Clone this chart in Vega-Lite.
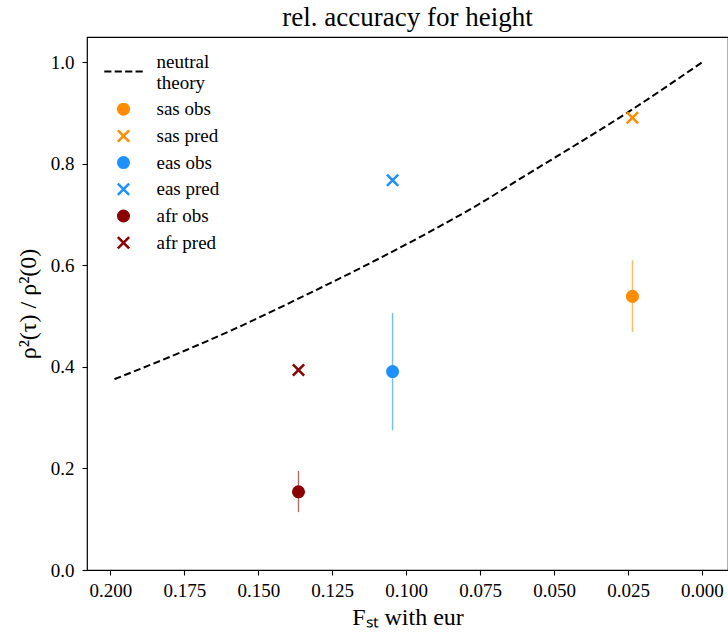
{
  "$schema": "https://vega.github.io/schema/vega-lite/v6.json",
  "width": 728,
  "height": 633,
  "autosize": {"type": "fit", "contains": "padding"},
  "padding": {"left": 16, "top": 4, "right": 0, "bottom": 4},
  "background": "white",
  "config": {
    "font": "Liberation Serif",
    "view": {"stroke": "black", "strokeWidth": 1.2},
    "axis": {
      "grid": false,
      "domain": false,
      "tickColor": "black",
      "tickSize": 5,
      "tickWidth": 1.1,
      "labelColor": "black",
      "labelFont": "Liberation Serif",
      "labelFontSize": 19,
      "titleFont": "Liberation Serif",
      "titleFontSize": 24,
      "titleFontWeight": "normal",
      "titleColor": "black"
    }
  },
  "title": {
    "text": "rel. accuracy for height",
    "font": "Liberation Serif",
    "fontSize": 27,
    "fontWeight": "normal",
    "color": "black",
    "offset": 5
  },
  "datasets": {
    "theory": [
      {"fst": 0.1986, "ratio": 0.376},
      {"fst": 0.1749, "ratio": 0.432},
      {"fst": 0.158, "ratio": 0.475},
      {"fst": 0.1363, "ratio": 0.535},
      {"fst": 0.1137, "ratio": 0.600},
      {"fst": 0.0912, "ratio": 0.669},
      {"fst": 0.0753, "ratio": 0.721},
      {"fst": 0.0617, "ratio": 0.770},
      {"fst": 0.0459, "ratio": 0.826},
      {"fst": 0.0255, "ratio": 0.900},
      {"fst": 0.0, "ratio": 1.0}
    ],
    "points": [
      {"series": "sas obs", "fst": 0.0235, "ratio": 0.539, "lo": 0.469, "hi": 0.61},
      {"series": "sas pred", "fst": 0.0235, "ratio": 0.891},
      {"series": "eas obs", "fst": 0.1046, "ratio": 0.391, "lo": 0.275, "hi": 0.506},
      {"series": "eas pred", "fst": 0.1046, "ratio": 0.768},
      {"series": "afr obs", "fst": 0.1364, "ratio": 0.154, "lo": 0.114, "hi": 0.195},
      {"series": "afr pred", "fst": 0.1364, "ratio": 0.394}
    ]
  },
  "layer": [
    {
      "data": {"name": "theory"},
      "mark": {"type": "line", "color": "black", "strokeDash": [7, 3.5], "strokeWidth": 2, "interpolate": "monotone"},
      "encoding": {
        "x": {
          "field": "fst",
          "type": "quantitative",
          "scale": {"domain": [-0.0088, 0.2079], "reverse": true, "nice": false, "zero": false},
          "axis": {"values": [0, 0.025, 0.05, 0.075, 0.1, 0.125, 0.15, 0.175, 0.2], "format": ".3f", "labelPadding": 6, "titlePadding": 5},
          "title": "Fₛₜ with eur"
        },
        "y": {
          "field": "ratio",
          "type": "quantitative",
          "scale": {"domain": [0, 1.05], "nice": false},
          "axis": {"values": [0, 0.2, 0.4, 0.6, 0.8, 1.0], "format": ".1f", "labelPadding": 8, "titlePadding": 10},
          "title": "ρ²(τ) / ρ²(0)"
        }
      }
    },
    {
      "data": {"name": "points"},
      "transform": [{"filter": "isValid(datum.lo)"}],
      "mark": {"type": "rule", "strokeWidth": 1.4, "opacity": 0.6},
      "encoding": {
        "x": {"field": "fst", "type": "quantitative"},
        "y": {"field": "lo", "type": "quantitative"},
        "y2": {"field": "hi"},
        "stroke": {
          "field": "series",
          "type": "nominal",
          "scale": {"domain": ["sas obs", "eas obs", "afr obs"], "range": ["#ff8c00", "#1e90ff", "#8b0000"]},
          "legend": null
        }
      }
    },
    {
      "data": {"name": "points"},
      "mark": {"type": "point", "filled": true, "size": 170, "opacity": 1},
      "encoding": {
        "x": {"field": "fst", "type": "quantitative"},
        "y": {"field": "ratio", "type": "quantitative"},
        "color": {
          "field": "series",
          "type": "nominal",
          "scale": {
            "domain": ["neutral theory", "sas obs", "sas pred", "eas obs", "eas pred", "afr obs", "afr pred"],
            "range": ["black", "#ff8c00", "#ff8c00", "#1e90ff", "#1e90ff", "#8b0000", "#8b0000"]
          },
          "legend": {
            "title": null,
            "orient": "top-left",
            "offset": 15,
            "padding": 0,
            "symbolOffset": 12,
            "symbolSize": 170,
            "labelOffset": 23.5,
            "labelFont": "Liberation Serif",
            "labelFontSize": 19,
            "labelColor": "black",
            "labelLimit": 300,
            "rowPadding": 6.7,
            "labelExpr": "datum.label == 'neutral theory' ? ['neutral', 'theory'] : datum.label"
          }
        },
        "shape": {
          "field": "series",
          "type": "nominal",
          "scale": {
            "domain": ["neutral theory", "sas obs", "sas pred", "eas obs", "eas pred", "afr obs", "afr pred"],
            "range": [
              "M-2.95,1.39H-1.85V1.69H-2.95Z M-1.35,1.39H-0.25V1.69H-1.35Z M0.25,1.39H1.35V1.69H0.25Z M1.85,1.39H2.95V1.69H1.85Z",
              "circle",
              "M-1,-0.73L-0.73,-1L0,-0.27L0.73,-1L1,-0.73L0.27,0L1,0.73L0.73,1L0,0.27L-0.73,1L-1,0.73L-0.27,0Z",
              "circle",
              "M-1,-0.73L-0.73,-1L0,-0.27L0.73,-1L1,-0.73L0.27,0L1,0.73L0.73,1L0,0.27L-0.73,1L-1,0.73L-0.27,0Z",
              "circle",
              "M-1,-0.73L-0.73,-1L0,-0.27L0.73,-1L1,-0.73L0.27,0L1,0.73L0.73,1L0,0.27L-0.73,1L-1,0.73L-0.27,0Z"
            ]
          }
        }
      }
    }
  ]
}
